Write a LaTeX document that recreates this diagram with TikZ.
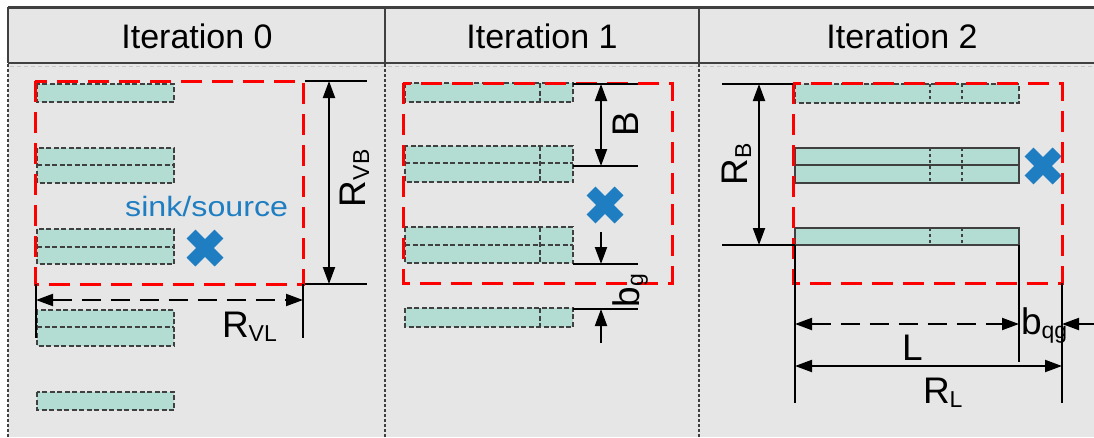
\documentclass[tikz,border=0pt]{standalone}
\usepackage{fontspec}
\setmainfont{Liberation Sans}
\usetikzlibrary{arrows.meta}
\definecolor{bgc}{HTML}{E6E6E6}
\definecolor{barc}{HTML}{B3DDD3}
\definecolor{bord}{HTML}{404040}
\definecolor{xblue}{HTML}{1F7EC2}
\definecolor{rred}{HTML}{FF0000}
\newcommand\hdfont{\fontsize{34}{40}\selectfont}
\newcommand\lbfont{\fontsize{37}{44}\selectfont}
\newcommand\sbx[1]{\raisebox{-4pt}{\fontsize{23}{26}\selectfont #1}}
\tikzset{
  hdline/.style={draw=bord, line width=2.5pt},
  coldiv/.style={draw=bord, line width=2.2pt, dash pattern=on 3pt off 2pt},
  barf/.style={fill=barc},
  dbord/.style={draw=bord, line width=2.5pt, dash pattern=on 5pt off 2.5pt},
  sbord/.style={draw=bord, line width=2.5pt},
  dotdiv/.style={draw=bord, line width=2.5pt, dash pattern=on 3pt off 3pt},
  redbox/.style={draw=rred, line width=3pt, dash pattern=on 21pt off 10pt},
  dim/.style={draw=black, line width=2pt},
  tick/.style={draw=black, line width=2pt},
  dimarr/.style={dim, >={Triangle[length=17pt,width=12pt]}},
  dashdim/.style={dimarr, dash pattern=on 19pt off 10pt},
  xcross/.style={draw=xblue, line width=12.5pt, line cap=butt},
  xm/.pic={\draw[xcross] (-14,-14) -- (14,14) (-14,14) -- (14,-14);},
  lbl/.style={inner sep=0pt, outer sep=0pt, font=\lbfont},
}
\begin{document}
\begin{tikzpicture}[x=1pt,y=-1pt]
\useasboundingbox (0,0) rectangle (1094,437);
\fill[bgc] (8,7) rectangle (1094,437);
% header
\draw[hdline] (8,7.5) -- (1094,7.5);
\draw[hdline] (8,63) -- (1094,63);
\draw[hdline] (8,7) -- (8,63);
\draw[hdline] (385,7) -- (385,63);
\draw[hdline] (699,7) -- (699,63);
\draw[draw=black!22, line width=1pt, dash pattern=on 4pt off 3pt] (10,66.5) -- (1094,66.5);
\node[anchor=base, inner sep=0pt, font=\hdfont] (h0) at (197,48) {Iteration 0};
\node[anchor=base, inner sep=0pt, font=\hdfont] (h1) at (542,48) {Iteration 1};
\node[anchor=base, inner sep=0pt, font=\hdfont] (h2) at (902,48) {Iteration 2};
% column dividers
\draw[coldiv] (8,64) -- (8,437);
\draw[coldiv] (385,64) -- (385,437);
\draw[coldiv] (699,64) -- (699,437);

% ---------- Column 0 ----------
\foreach \ya/\yb in {84/102, 392/410}
  \path[barf, dbord] (37,\ya) rectangle (174,\yb);
\foreach \ya/\ym/\yb in {148/165/183, 229/247/264, 310/327/346}{
  \path[barf, dbord] (37,\ya) rectangle (174,\yb);
  \draw[dbord] (37,\ym) -- (174,\ym);
}
\node[anchor=base west, inner sep=0pt, text=xblue] (sink) at (125,216)
  {\scalebox{1.15}[1]{\fontsize{28}{32}\selectfont sink/source}};
\pic at (205,248) {xm};
\draw[redbox] (35,81) rectangle (303,284);
% R_VB
\coordinate (vbT) at (329,81);
\coordinate (vbB) at (329,284);
\coordinate (vbT1) at (305,81);
\coordinate (vbT2) at (367,81);
\coordinate (vbB1) at (305,284);
\coordinate (vbB2) at (367,284);
\draw[tick] (vbT1) -- (vbT2);
\draw[tick] (vbB1) -- (vbB2);
\draw[dimarr, <->] (vbT) -- (vbB);
\node[lbl, rotate=90, anchor=base west] (lvb) at (365,207) {R\sbx{VB}};
% R_VL
\coordinate (vlL) at (36,300);
\coordinate (vlR) at (303,300);
\coordinate (vlL1) at (36,284);
\coordinate (vlL2) at (36,338);
\coordinate (vlR1) at (303,284);
\coordinate (vlR2) at (303,338);
\draw[tick] (vlL1) -- (vlL2);
\draw[tick] (vlR1) -- (vlR2);
\draw[dashdim, <->] (vlL) -- (vlR);
\node[lbl, anchor=base west] (lvl) at (222,337) {R\sbx{VL}};

% ---------- Column 1 ----------
\foreach \ya/\yb in {83/102, 308/327}{
  \path[barf, dbord] (405,\ya) rectangle (573,\yb);
  \draw[dbord] (540,\ya) -- (540,\yb);
}
\foreach \ya/\ym/\yb in {146/163/182, 227/245/263}{
  \path[barf, dbord] (405,\ya) rectangle (573,\yb);
  \draw[dbord] (405,\ym) -- (573,\ym);
  \draw[dbord] (540,\ya) -- (540,\yb);
}
\pic at (605,205) {xm};
\draw[redbox] (403,83) rectangle (672,283);
% B
\coordinate (bT) at (601,84);
\coordinate (bB) at (601,166);
\coordinate (bT1) at (573,84);
\coordinate (bT2) at (638,84);
\coordinate (bB1) at (573,166);
\coordinate (bB2) at (638,166);
\draw[tick] (bT1) -- (bT2);
\draw[tick] (bB1) -- (bB2);
\draw[dimarr, <->] (bT) -- (bB);
\node[lbl, rotate=90, anchor=base west] (lB) at (638,136) {B};
% b_g
\coordinate (gT1) at (573,264);
\coordinate (gT2) at (638,264);
\coordinate (gB1) at (573,309);
\coordinate (gB2) at (638,309);
\coordinate (gTa) at (601,232);
\coordinate (gTb) at (601,264);
\coordinate (gBa) at (601,343);
\coordinate (gBb) at (601,309);
\draw[tick] (gT1) -- (gT2);
\draw[tick] (gB1) -- (gB2);
\draw[dimarr, ->] (gTa) -- (gTb);
\draw[dimarr, ->] (gBa) -- (gBb);
\node[lbl, rotate=90, anchor=base west] (lbg) at (639,307) {b\sbx{g}};

% ---------- Column 2 ----------
\path[barf, dbord] (795,84) rectangle (1019,103);
\draw[dotdiv] (930,84) -- (930,103);
\draw[dotdiv] (962,84) -- (962,103);
\path[barf, sbord] (795,148) rectangle (1019,183);
\draw[sbord] (795,165) -- (1019,165);
\draw[dotdiv] (930,148) -- (930,183);
\draw[dotdiv] (962,148) -- (962,183);
\path[barf, sbord] (795,228) rectangle (1019,245);
\draw[dotdiv] (930,228) -- (930,245);
\draw[dotdiv] (962,228) -- (962,245);
\pic at (1043,166) {xm};
\draw[redbox] (793,83) rectangle (1062,283);
% R_B
\coordinate (rbT) at (759,84);
\coordinate (rbB) at (759,245);
\coordinate (rbT1) at (722,84);
\coordinate (rbT2) at (793,84);
\coordinate (rbB1) at (722,245);
\coordinate (rbB2) at (795,245);
\draw[tick] (rbT1) -- (rbT2);
\draw[tick] (rbB1) -- (rbB2);
\draw[dimarr, <->] (rbT) -- (rbB);
\node[lbl, rotate=90, anchor=base west] (lrb) at (747,185) {R\sbx{B}};
% extension lines
\coordinate (e1a) at (795,245);
\coordinate (e1b) at (795,403);
\coordinate (e2a) at (1019,245);
\coordinate (e2b) at (1019,362);
\coordinate (e3a) at (1062,283);
\coordinate (e3b) at (1062,403);
\draw[tick] (e1a) -- (e1b);
\draw[tick] (e2a) -- (e2b);
\draw[tick] (e3a) -- (e3b);
% L
\coordinate (lL) at (795,324);
\coordinate (lR) at (1019,324);
\draw[dashdim, <->] (lL) -- (lR);
\node[lbl, anchor=base west] (lL0) at (902,360) {L};
% b_qg
\coordinate (qA) at (1094,324);
\coordinate (qB) at (1062,324);
\draw[dimarr, ->] (qA) -- (qB);
\node[lbl, anchor=base west] (lqg) at (1021,334) {b\sbx{qg}};
% R_L
\coordinate (rlL) at (795,366);
\coordinate (rlR) at (1062,366);
\draw[dimarr, <->] (rlL) -- (rlR);
\node[lbl, anchor=base west] (lrl) at (923,403) {R\sbx{L}};
\end{tikzpicture}
\end{document}
